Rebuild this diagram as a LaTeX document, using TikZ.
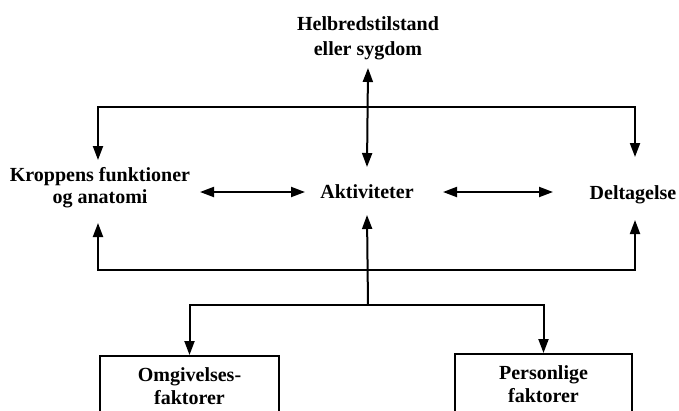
\documentclass[tikz,border=0pt]{standalone}
\usepackage{fontspec}
\setmainfont{Liberation Serif}
\usetikzlibrary{arrows.meta}
\begin{document}
\begin{tikzpicture}[x=1pt,y=-1pt,
  lbl/.style={inner sep=0pt,align=center,font=\fontsize{20}{22}\selectfont\bfseries},
  fbox/.style={draw,line width=2pt,inner sep=0pt,align=center,font=\fontsize{20}{23}\selectfont\bfseries},
  conn/.style={line width=2pt},
  tip/.style={-{Triangle[length=14pt,width=10pt]}},
  dtip/.style={{Triangle[length=14pt,width=10pt]}-{Triangle[length=14pt,width=10pt]}}]
\useasboundingbox (0,0) rectangle (679,410);
\fill[white] (0,0) rectangle (679,410);
\clip (0,0) rectangle (679,410);

\node[lbl,font=\fontsize{20}{25}\selectfont\bfseries] (helb) at (368,38) {Helbredstilstand\\eller sygdom};
\node[lbl] (krop) at (100,188) {Kroppens funktioner\\og anatomi};
\node[lbl] (akt) at (367,192) {Aktiviteter};
\node[lbl] (delt) at (633,195) {Deltagelse};
\node[fbox,minimum width=179pt,minimum height=60pt] (omg) at (189.5,386) {Omgivelses-\\faktorer};
\node[fbox,minimum width=177pt,minimum height=60pt] (pers) at (543.5,384) {Personlige\\faktorer};

\coordinate (top) at (367,107);
\coordinate (bot) at (367,270);
\coordinate (br) at (368,305);

% Helbred <-> Aktiviteter
\draw[conn,dtip] ([yshift=25pt]akt.center) -- ([yshift=-30pt]helb.center);
% top bracket
\coordinate (kT) at ([xshift=-2pt,yshift=28pt]krop.center);
\coordinate (dT) at ([xshift=2pt,yshift=38pt]delt.center);
\draw[conn,dtip] (kT) -- (kT |- top) -- (dT |- top) -- (dT);
% bottom bracket
\coordinate (kB) at ([xshift=-2pt,yshift=-35pt]krop.center);
\coordinate (dB) at ([xshift=2pt,yshift=-25pt]delt.center);
\draw[conn,dtip] (kB) -- (kB |- bot) -- (dB |- bot) -- (dB);
% horizontal double arrows
\draw[conn,dtip] ([xshift=100pt,yshift=-4pt]krop.center) -- ([xshift=-62pt]akt.center);
\draw[conn,dtip] ([xshift=76pt]akt.center) -- ([xshift=-80pt,yshift=3pt]delt.center);
% up arrow into Aktiviteter
\draw[conn,tip] (br) -- ([yshift=-23pt]akt.center);
% branch to the boxes
\draw[conn,dtip] (omg.north) |- (br) -| (pers.north);
\end{tikzpicture}
\end{document}
